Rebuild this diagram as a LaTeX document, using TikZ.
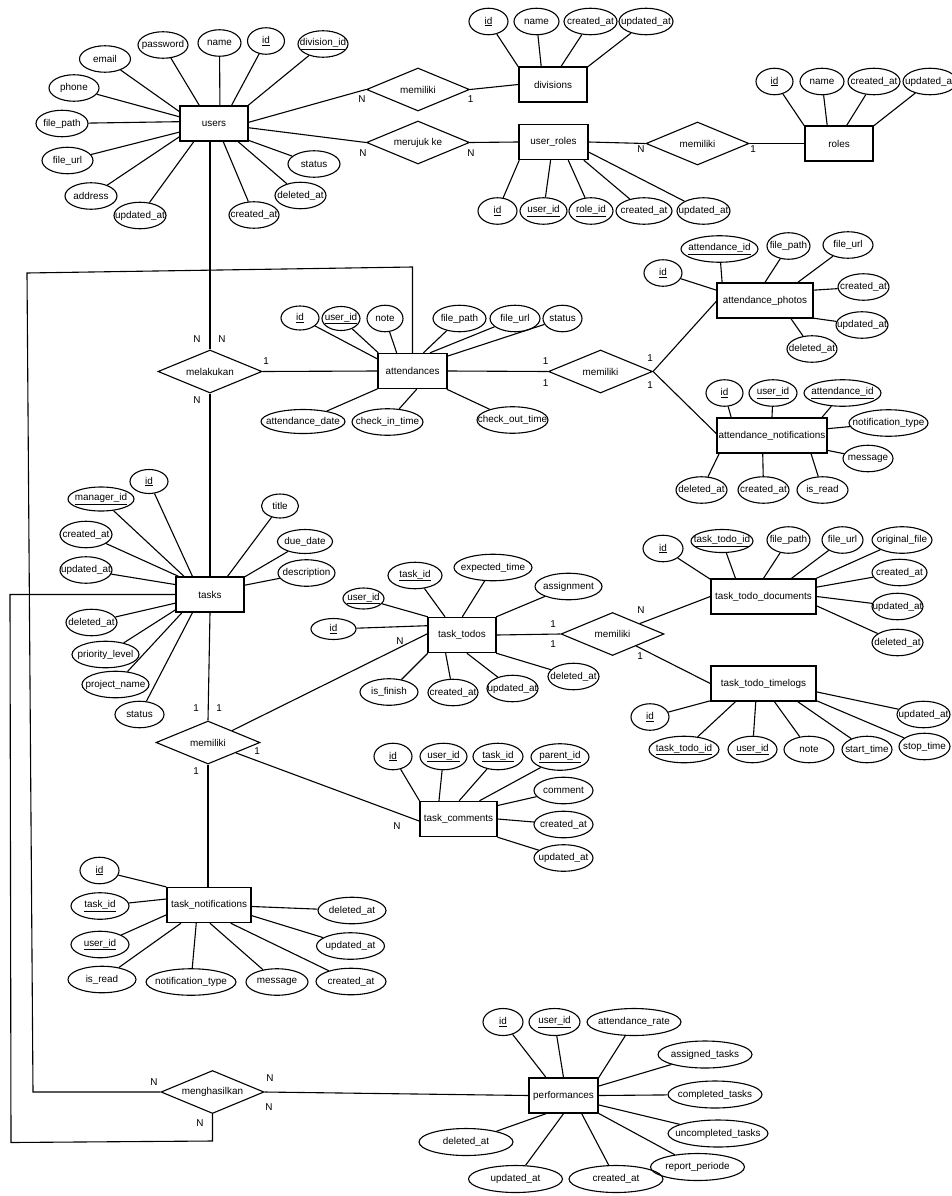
\documentclass[tikz,border=0pt]{standalone}
\usepackage{fontspec}
\setmainfont{Liberation Sans}
\usetikzlibrary{shapes.geometric}
\newcommand{\AT}[5]{\node[attrib,minimum width=#4] (#1) at (#2,#3) {\makebox[0pt]{#5}};}
\newcommand{\ATh}[6]{\node[attrib,minimum width=#4,minimum height=#5] (#1) at (#2,#3) {\makebox[0pt]{#6}};}
\newcommand{\ENT}[5]{\node[ent,minimum width=#4] (#1) at (#2,#3) {#5};}
\newcommand{\REL}[5]{\node[rel,minimum width=#4] (#1) at (#2,#3) {\makebox[0pt]{#5}};}
\newcommand{\CARD}[4]{\node[card] (#1) at (#2,#3) {#4};}
\tikzset{
  ent/.style={draw, line width=1.4pt, rectangle, inner sep=0pt, minimum height=35},
  attrib/.style={draw, line width=1.1pt, ellipse, inner sep=0pt, minimum height=26.5},
  rel/.style={draw, line width=1.1pt, diamond, inner sep=0pt, minimum height=43},
  conn/.style={line width=1.1pt},
  card/.style={inner sep=0pt}
}
\begin{document}
\begin{tikzpicture}[x=1pt,y=-1pt,font=\fontsize{9.9}{11}\selectfont]
\useasboundingbox[fill=white] (0,0) rectangle (952,1196);

% ---------------- users ----------------
\ENT{users}{214}{123.5}{68}{users}
\AT{u_email}{105}{59}{51}{email}
\AT{u_pass}{163}{45}{50}{password}
\AT{u_name}{219.5}{43}{43}{name}
\AT{u_id}{266}{41}{37}{\underline{id}}
\AT{u_div}{323}{44}{50}{\underline{division\_id}}
\AT{u_phone}{74}{88}{50}{phone}
\AT{u_fpath}{62}{123.5}{52}{file\_path}
\AT{u_furl}{67.5}{160.5}{51}{file\_url}
\AT{u_addr}{91}{196}{52}{address}
\AT{u_upd}{140}{215.5}{52}{updated\_at}
\AT{u_cre}{254}{215}{50}{created\_at}
\AT{u_del}{300.5}{195.5}{51}{deleted\_at}
\AT{u_status}{314}{164}{52}{status}
\foreach \n/\a in {u_email/161,u_pass/129,u_name/72,u_id/46,u_div/28,u_phone/169,u_fpath/177.5,u_furl/194,u_addr/201.7,u_upd/222.6,u_cre/297,u_del/323,u_status/334}
  \draw[conn] (\n) -- (users.\a);

% ---------------- divisions ----------------
\ENT{div}{553}{84.5}{68}{divisions}
\AT{d_id}{488.5}{21.5}{39}{\underline{id}}
\AT{d_name}{536.5}{21.5}{45}{name}
\AT{d_cre}{590.5}{21.5}{53}{created\_at}
\AT{d_upd}{646}{21.5}{54}{updated\_at}
\foreach \n/\a in {d_id/153,d_name/123,d_cre/66,d_upd/27}
  \draw[conn] (\n) -- (div.\a);

\REL{md}{418}{89.5}{103}{memiliki}
\draw[conn] (users.2.5) -- (md.west);
\draw[conn] (md.east) -- (div.west);
\CARD{c1}{362}{99}{N}
\CARD{c2}{470.5}{99}{1}

% ---------------- user_roles ----------------
\ENT{ur}{553.5}{142}{69}{user\_roles}
\REL{mk}{418}{142.5}{103}{merujuk ke}
\draw[conn] (users.353) -- (mk.west);
\draw[conn] (mk.east) -- (ur.west);
\CARD{c3}{363}{153}{N}
\CARD{c4}{471}{153}{N}
\AT{ur_id}{497.5}{211}{39}{\underline{id}}
\AT{ur_uid}{543.5}{211}{47}{\underline{user\_id}}
\AT{ur_rid}{591}{211}{44}{\underline{role\_id}}
\AT{ur_cre}{644}{211}{56}{created\_at}
\AT{ur_upd}{703.5}{211}{53}{updated\_at}
\foreach \n/\a in {ur_id/208,ur_uid/261,ur_rid/309,ur_cre/329,ur_upd/344}
  \draw[conn] (\n) -- (ur.\a);

% ---------------- roles ----------------
\REL{mr}{697.5}{143.5}{103}{memiliki}
\ENT{roles}{839}{143.5}{68}{roles}
\draw[conn] (ur.east) -- (mr.west);
\draw[conn] (mr.east) -- (roles.west);
\CARD{c5}{641}{149}{N}
\CARD{c6}{753}{149}{1}
\AT{r_id}{774.5}{81.5}{37}{\underline{id}}
\AT{r_name}{822}{81.5}{44}{name}
\AT{r_cre}{874}{81.5}{52}{created\_at}
\AT{r_upd}{930}{81.5}{54}{updated\_at}
\foreach \n/\a in {r_id/153,r_name/123,r_cre/67,r_upd/27}
  \draw[conn] (\n) -- (roles.\a);

% ---------------- melakukan / attendances ----------------
\REL{ml}{210}{371.5}{104}{melakukan}
\ENT{att}{412.5}{371}{69}{attendances}
\draw[conn] (ml.north) -- (ml.north |- users.south);
\draw[conn] (ml.east) -- (att.west);
\CARD{c7}{197}{339}{N}
\CARD{c8}{222}{339}{N}
\CARD{c9}{266}{361}{1}
\CARD{c10}{197}{400}{N}
\ATh{a_id}{300}{318}{38}{24}{\underline{id}}
\ATh{a_uid}{341}{318.5}{38}{24}{\underline{user\_id}}
\AT{a_note}{385}{318.5}{36}{note}
\AT{a_fpath}{459.5}{318.5}{53}{file\_path}
\AT{a_furl}{515}{318.5}{50}{file\_url}
\AT{a_status}{562.5}{318.5}{39}{status}
\ATh{a_adate}{303}{421.5}{84}{24}{attendance\_date}
\AT{a_cin}{387.5}{422}{71}{check\_in\_time}
\AT{a_cout}{512.5}{420}{71}{check\_out\_time}
\foreach \n/\a in {a_id/161,a_uid/152,a_note/131,a_fpath/59,a_furl/46,a_status/23.5,a_adate/207.5,a_cin/283,a_cout/332}
  \draw[conn] (\n) -- (att.\a);

% ---------------- memiliki (attendances) ----------------
\REL{ma}{600.5}{371.5}{104}{memiliki}
\draw[conn] (att.east) -- (ma.west);
\CARD{c11}{545.7}{360.7}{1}
\CARD{c12}{545.7}{382.7}{1}
\CARD{c13}{650}{357.7}{1}
\CARD{c14}{650}{385}{1}

\ENT{ap}{765}{300.5}{96}{attendance\_photos}
\draw[conn] (ma.east) -- (ap.181);
\AT{ap_aid}{719.5}{249}{77}{\underline{attendance\_id}}
\AT{ap_fpath}{788.5}{246}{43}{file\_path}
\AT{ap_furl}{848}{245}{50}{file\_url}
\AT{ap_id}{663}{273}{38}{\underline{id}}
\AT{ap_cre}{863.5}{287}{51}{created\_at}
\AT{ap_upd}{862}{325}{52}{updated\_at}
\AT{ap_del}{812}{349}{50}{deleted\_at}
\foreach \n/\a in {ap_aid/157,ap_fpath/90,ap_furl/29,ap_id/168.5,ap_cre/12,ap_upd/340,ap_del/325}
  \draw[conn] (\n) -- (ap.\a);

\ENT{an}{772}{435.5}{110}{attendance\_notifications}
\draw[conn] (ma.east) -- (an.178);
\AT{an_id}{724.5}{393}{37}{\underline{id}}
\AT{an_uid}{773}{393}{48}{\underline{user\_id}}
\AT{an_aid}{842.5}{393}{77}{\underline{attendance\_id}}
\AT{an_ntype}{888.5}{423}{79}{notification\_type}
\AT{an_msg}{868}{458.5}{50}{message}
\AT{an_del}{701.5}{490}{51}{deleted\_at}
\AT{an_cre}{763.5}{490}{51}{created\_at}
\AT{an_read}{822.5}{490}{51}{is\_read}
\foreach \n/\a in {an_id/156.5,an_uid/90,an_aid/20,an_ntype/7.5,an_msg/345,an_del/199,an_cre/243.6,an_read/335}
  \draw[conn] (\n) -- (an.\a);

% ---------------- tasks ----------------
\ENT{tk}{210}{594.5}{68}{tasks}
\draw[conn] (ml.south) -- (ml.south |- tk.north);
\ATh{t_id}{149}{481.5}{38}{24}{\underline{id}}
\ATh{t_mgr}{101}{499}{66}{24}{\underline{manager\_id}}
\AT{t_cre}{86}{534.5}{52}{created\_at}
\AT{t_upd}{86}{570}{52}{updated\_at}
\AT{t_del}{91.5}{622.5}{51}{deleted\_at}
\AT{t_prio}{105.5}{654.5}{67}{priority\_level}
\AT{t_proj}{115.5}{684.5}{67}{project\_name}
\AT{t_status}{139.5}{714.5}{49}{status}
\ATh{t_title}{280}{506}{37}{24}{title}
\ATh{t_due}{305}{541.5}{55}{24}{due\_date}
\AT{t_desc}{306.5}{573}{57}{description}
\foreach \n/\a in {t_id/134,t_mgr/145,t_cre/150,t_upd/164,t_del/194,t_prio/204.5,t_proj/213.7,t_status/226.6,t_title/46,t_due/27,t_desc/15.6}
  \draw[conn] (\n) -- (tk.\a);

% ---------------- memiliki (tasks) ----------------
\REL{mt}{208}{742.5}{104}{memiliki}
\draw[conn] (tk.south) -- (mt.north);
\CARD{c15}{196}{708}{1}
\CARD{c16}{219}{708}{1}
\CARD{c17}{257}{751}{1}
\CARD{c18}{196}{771}{1}

% ---------------- task_todos ----------------
\ENT{tt}{462}{635}{68}{task\_todos}
\draw[conn] (mt) -- (tt.178);
\CARD{c19}{400}{641}{N}
\ATh{tt_uid}{363.5}{598.5}{41}{21}{\underline{user\_id}}
\AT{tt_tid}{415}{575.5}{54}{\underline{task\_id}}
\AT{tt_exp}{493}{567.5}{78}{expected\_time}
\AT{tt_asg}{568.5}{586.5}{67}{assignment}
\ATh{tt_id}{333.5}{629}{45}{21}{\underline{id}}
\AT{tt_fin}{389}{692}{58}{is\_finish}
\AT{tt_cre}{453}{692.5}{50}{created\_at}
\AT{tt_upd}{512.5}{688.5}{51}{updated\_at}
\AT{tt_del}{573.5}{676.5}{51}{deleted\_at}
\foreach \n/\a in {tt_uid/152,tt_tid/133,tt_exp/89,tt_asg/28,tt_id/165,tt_fin/208,tt_cre/228,tt_upd/285,tt_del/332}
  \draw[conn] (\n) -- (tt.\a);

% ---------------- memiliki (task_todos) ----------------
\REL{mtd}{612.5}{634}{103}{memiliki}
\draw[conn] (tt.east) -- (mtd.west);
\CARD{c20}{553}{624}{1}
\CARD{c21}{553}{644}{1}
\CARD{c22}{641}{610}{N}
\CARD{c23}{640}{656}{1}

\ENT{tdd}{763.5}{596.5}{105}{task\_todo\_documents}
\draw[conn] (mtd) -- (tdd.west);
\AT{tdd_id}{663}{548.5}{40}{\underline{id}}
\ATh{tdd_tid}{722}{541}{62}{23}{\underline{task\_todo\_id}}
\AT{tdd_fpath}{788.5}{540}{43}{file\_path}
\AT{tdd_furl}{842.5}{540}{41}{file\_url}
\AT{tdd_orig}{902}{540}{60}{original\_file}
\AT{tdd_cre}{899.5}{572.5}{55}{created\_at}
\AT{tdd_upd}{897.5}{606.5}{51}{updated\_at}
\AT{tdd_del}{897.5}{642.5}{51}{deleted\_at}
\foreach \n/\a in {tdd_id/162,tdd_tid/147,tdd_fpath/90,tdd_furl/33.4,tdd_orig/19,tdd_cre/10.6,tdd_upd/0,tdd_del/350}
  \draw[conn] (\n) -- (tdd.\a);

\ENT{tdl}{763.5}{683.5}{105}{task\_todo\_timelogs}
\draw[conn] (mtd) -- (tdl.west);
\AT{tdl_id}{650}{717}{38}{\underline{id}}
\AT{tdl_tid}{684}{749.5}{70}{\underline{task\_todo\_id}}
\AT{tdl_uid}{752.5}{749.5}{49}{\underline{user\_id}}
\AT{tdl_note}{809}{749.5}{50}{note}
\AT{tdl_start}{867}{749.5}{50}{start\_time}
\AT{tdl_stop}{924.5}{746.5}{51}{stop\_time}
\AT{tdl_upd}{923.5}{714.5}{53}{updated\_at}
\foreach \n/\a in {tdl_id/198.4,tdl_tid/213,tdl_uid/247,tdl_note/301,tdl_start/332,tdl_stop/342,tdl_upd/351}
  \draw[conn] (\n) -- (tdl.\a);

% ---------------- task_comments ----------------
\ENT{tc}{458.5}{819}{77}{task\_comments}
\draw[conn] (mt) -- (tc.183);
\CARD{c24}{397}{826}{N}
\AT{tc_id}{393}{756.5}{38}{\underline{id}}
\AT{tc_uid}{443.5}{756.5}{47}{\underline{user\_id}}
\AT{tc_tid}{498}{756.5}{50}{\underline{task\_id}}
\AT{tc_pid}{560}{757}{58}{\underline{parent\_id}}
\AT{tc_com}{563.5}{790.5}{59}{comment}
\AT{tc_cre}{563.5}{824.5}{59}{created\_at}
\AT{tc_upd}{563.5}{858}{59}{updated\_at}
\foreach \n/\a in {tc_id/155,tc_uid/137,tc_tid/88,tc_pid/41,tc_com/19,tc_cre/0,tc_upd/335}
  \draw[conn] (\n) -- (tc.\a);

% ---------------- task_notifications ----------------
\ENT{tn}{209}{905}{84}{task\_notifications}
\draw[conn] (mt.south) -- (mt.south |- tn.north);
\AT{tn_id}{99.5}{870.5}{39}{\underline{id}}
\AT{tn_tid}{100}{906}{58}{\underline{task\_id}}
\AT{tn_uid}{100}{944.5}{58}{\underline{user\_id}}
\AT{tn_read}{102}{979.5}{68}{is\_read}
\AT{tn_ntype}{191}{982}{90}{notification\_type}
\AT{tn_msg}{277}{982}{62}{message}
\AT{tn_cre}{351}{981.5}{70}{created\_at}
\AT{tn_upd}{350.5}{946}{68}{updated\_at}
\AT{tn_del}{352}{910.5}{68}{deleted\_at}
\foreach \n/\a in {tn_id/157,tn_tid/172,tn_uid/193,tn_read/213,tn_ntype/235.6,tn_msg/273,tn_cre/320.7,tn_upd/346.6,tn_del/358.6}
  \draw[conn] (\n) -- (tn.\a);

% ---------------- menghasilkan / performances ----------------
\REL{mh}{212.5}{1092}{103}{menghasilkan}
\ENT{pf}{563.5}{1095.5}{69}{performances}
\draw[conn] (mh.east) -- (pf.west);
\CARD{c25}{154}{1082}{N}
\CARD{c26}{270}{1078}{N}
\CARD{c27}{269}{1107}{N}
\CARD{c28}{200}{1123}{N}
\coordinate (l1a) at (412.5,267);
\coordinate (l1b) at (27,273);
\coordinate (l1c) at (33,1092);
\draw[conn] (att.north) -- (l1a) -- (l1b) -- (l1c) -- (mh.west);
\coordinate (l2a) at (10,594.5);
\coordinate (l2b) at (11,1142.5);
\coordinate (l2c) at (212.5,1141);
\draw[conn] (tk.west) -- (l2a) -- (l2b) -- (l2c) -- (mh.south);

\ATh{pf_id}{503}{1022}{40}{27}{\underline{id}}
\ATh{pf_uid}{554.5}{1022}{51}{27}{\underline{user\_id}}
\ATh{pf_rate}{634}{1022}{94}{27}{attendance\_rate}
\ATh{pf_asg}{705}{1054.5}{94}{27}{assigned\_tasks}
\ATh{pf_comp}{715}{1094.5}{94}{27}{completed\_tasks}
\ATh{pf_unc}{718}{1133.5}{100}{27}{uncompleted\_tasks}
\ATh{pf_rep}{697.5}{1167}{94}{27}{report\_periode}
\ATh{pf_cre}{616}{1179}{94}{27}{created\_at}
\ATh{pf_upd}{515.5}{1179}{94}{27}{updated\_at}
\ATh{pf_del}{466}{1142}{94}{27}{deleted\_at}
\foreach \n/\a in {pf_id/134,pf_uid/90,pf_rate/27,pf_asg/15,pf_comp/0,pf_unc/345,pf_rep/333,pf_cre/315,pf_upd/270,pf_del/226}
  \draw[conn] (\n) -- (pf.\a);
\end{tikzpicture}
\end{document}
